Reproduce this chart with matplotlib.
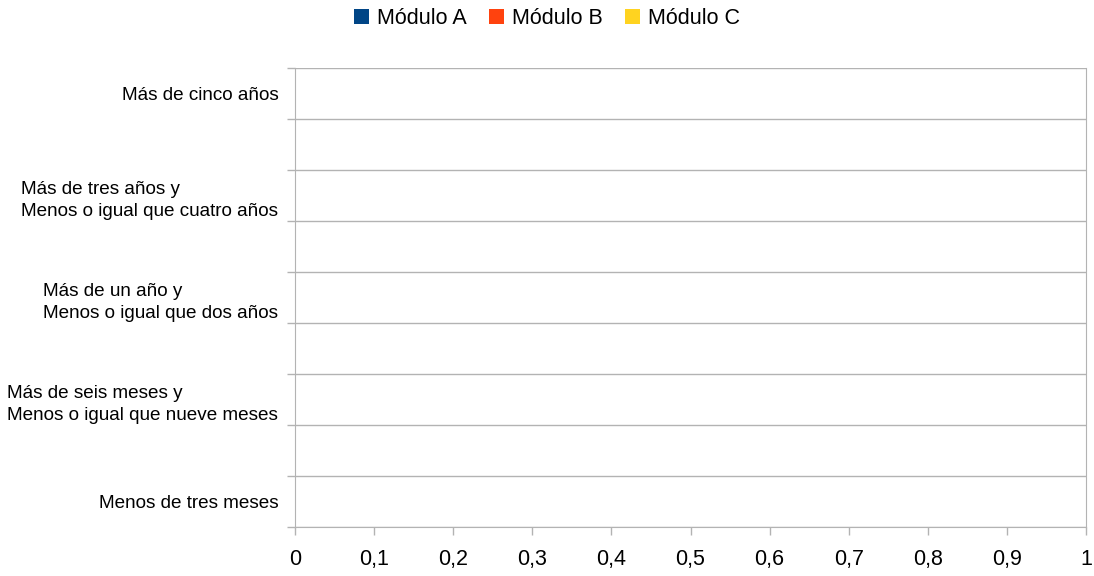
import matplotlib.pyplot as plt
from matplotlib.patches import Patch
import numpy as np

plt.rcParams["font.family"] = ["Liberation Sans", "DejaVu Sans"]

# Categorías (de abajo hacia arriba); sólo se ven las etiquetas alternas
categorias = [
    "Menos de tres meses",
    "",
    "Más de seis meses y\nMenos o igual que nueve meses",
    "",
    "Más de un año y\nMenos o igual que dos años",
    "",
    "Más de tres años y\nMenos o igual que cuatro años",
    "",
    "Más de cinco años",
]
series = ["Módulo A", "Módulo B", "Módulo C"]
colores = ["#004586", "#ff420e", "#ffd320"]
modulo_a = [0, 0, 0, 0, 0, 0, 0, 0, 0]
modulo_b = [0, 0, 0, 0, 0, 0, 0, 0, 0]
modulo_c = [0, 0, 0, 0, 0, 0, 0, 0, 0]
x_ticks = [0, 0.1, 0.2, 0.3, 0.4, 0.5, 0.6, 0.7, 0.8, 0.9, 1]

fig = plt.figure(figsize=(10.94, 5.76), dpi=100)
ax = fig.add_axes([295 / 1094, 1 - 527 / 576, (1086 - 295) / 1094, (527 - 68) / 576])

y = np.arange(len(categorias))
alto = 0.8 / 3
for i, (valores, color) in enumerate(zip([modulo_a, modulo_b, modulo_c], colores)):
    ax.barh(y + (i - 1) * alto, valores, height=alto, color=color)

ax.set_xlim(0, 1)
ax.set_ylim(-0.5, len(categorias) - 0.5)
ax.set_xticks(x_ticks)
ax.set_xticklabels([("%g" % v).replace(".", ",") for v in x_ticks], fontsize=15.5)
ax.set_yticks(y)
ax.set_yticklabels(categorias, fontsize=13.6, multialignment="left", linespacing=1.45)
ax.set_yticks(np.arange(len(categorias) + 1) - 0.5, minor=True)

gris = "#b3b3b3"
ax.tick_params(axis="y", which="major", length=0, pad=12)
ax.tick_params(axis="y", which="minor", length=6, color=gris, width=1)
ax.tick_params(axis="x", length=6, color=gris, width=1, pad=10)
ax.grid(axis="y", which="minor", color=gris, linewidth=1)
ax.set_axisbelow(True)
for lado in ["left", "bottom", "right"]:
    ax.spines[lado].set_color(gris)
ax.spines["top"].set_visible(False)

manejadores = [Patch(facecolor=c, edgecolor="none") for c in colores]
fig.legend(manejadores, series, loc="upper center", bbox_to_anchor=(0.5, 1.02),
           ncol=3, frameon=False, fontsize=15.5, handlelength=0.7, handleheight=0.7,
           handletextpad=0.4, columnspacing=1.0)

fig.savefig("out.png", dpi=100)
